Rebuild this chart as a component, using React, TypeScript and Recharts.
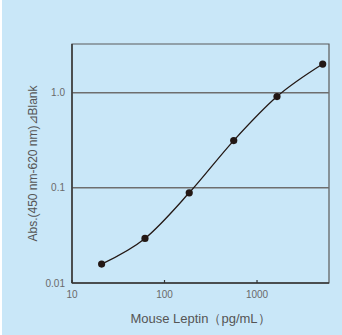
import { LineChart, Line, XAxis, YAxis, ReferenceLine, ReferenceArea, Label } from "recharts"

const concentrations = [20.9, 61.5, 185, 560, 1644, 5130]
const absorbances = [0.0158, 0.0294, 0.0887, 0.314, 0.91, 2.0]
const xTicks = [10, 100, 1000]
const yTicks = [0.01, 0.1, 1]
const yTickLabels = ["0.01", "0.1", "1.0"]
const gridValues = [0.1, 1]

const data = concentrations.map((c, i) => ({ conc: c, abs: absorbances[i] }))

const INK = "#231815"
const BG = "#c9e7f8"

export default function App() {
  return (
    <div style={{ position: "absolute", left: 0, top: 0, width: 342, height: 335, background: "#ffffff" }}>
      <div style={{ position: "absolute", left: 2, top: 0, width: 340, height: 335, background: BG }}>
        <LineChart
          width={340}
          height={335}
          data={data}
          margin={{ top: 44, right: 13, bottom: 0, left: 0 }}
        >
          <ReferenceArea
            x1={10}
            x2={6000}
            y1={0.01}
            y2={3.25}
            fill="none"
            stroke="#5a5a5a"
            strokeWidth={1.2}
            ifOverflow="visible"
          />
          {gridValues.map((v) => (
            <ReferenceLine key={v} y={v} stroke="#6e6e6e" strokeWidth={1.5} />
          ))}
          <XAxis
            dataKey="conc"
            type="number"
            scale="log"
            domain={[10, 6000]}
            allowDataOverflow
            ticks={xTicks}
            tickSize={-3}
            tickMargin={11}
            tick={{ fill: "#6a6a6a", fontSize: 10, fontFamily: "'Liberation Sans Narrow', 'Liberation Sans', Arial, sans-serif" }}
            tickLine={{ stroke: "#333333", strokeWidth: 1.2 }}
            axisLine={{ stroke: "#333333", strokeWidth: 1.4 }}
            height={52}
          >
            <Label
              value="Mouse Leptin（pg/mL）"
              position="insideBottom"
              offset={12}
              fill="#555555"
              fontSize={13}
              fontFamily="'Liberation Sans', Arial, sans-serif"
            />
          </XAxis>
          <YAxis
            dataKey="abs"
            type="number"
            scale="log"
            domain={[0.01, 3.25]}
            allowDataOverflow
            ticks={yTicks}
            tickFormatter={(v) => yTickLabels[yTicks.indexOf(v)] ?? String(v)}
            tickSize={0}
            tickMargin={7}
            tickLine={false}
            tick={{ fill: "#6a6a6a", fontSize: 10, fontFamily: "'Liberation Sans Narrow', 'Liberation Sans', Arial, sans-serif" }}
            axisLine={{ stroke: "#333333", strokeWidth: 1.4 }}
            width={70}
          >
            <Label
              value="Abs.(450 nm-620 nm)⊿Blank"
              angle={-90}
              position="insideLeft"
              offset={31}
              fill="#555555"
              fontSize={12}
              fontFamily="'Liberation Sans', Arial, sans-serif"
              style={{ textAnchor: "middle" }}
            />
          </YAxis>
          <Line
            dataKey="abs"
            type="monotone"
            stroke={INK}
            strokeWidth={1.3}
            dot={{ r: 3.6, fill: INK, stroke: INK, strokeWidth: 0 }}
            activeDot={false}
            isAnimationActive={false}
          />
        </LineChart>
      </div>
    </div>
  )
}
